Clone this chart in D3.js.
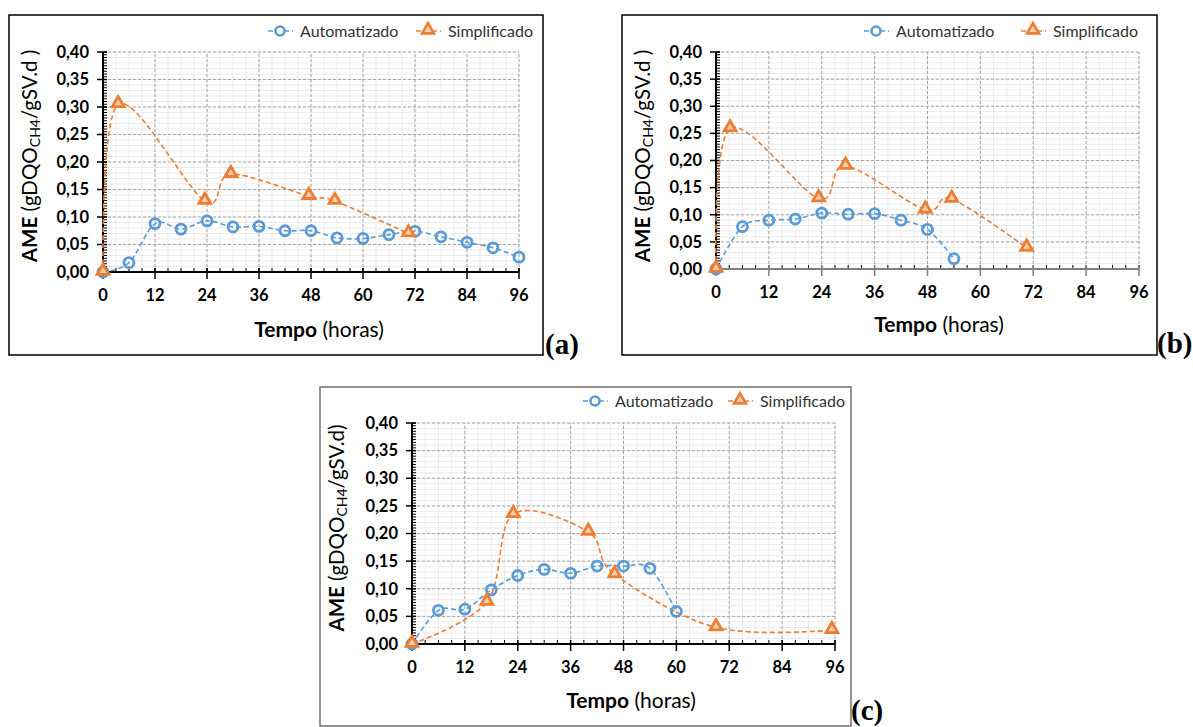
<!DOCTYPE html>
<meta charset="utf-8">
<style>
  body { margin: 0; background: #fff; }
  text { font-family: Lato, "Open Sans", sans-serif; }
</style>
<body>
<script src="https://d3js.org/d3.v7.min.js"></script>
<script>

var width = 1193,
    height = 727;

// panel (a)
var autoA_x = [0, 6, 12, 18, 24, 30, 36, 42, 48, 54, 60, 66, 72, 78, 84, 90, 96];
var autoA_y = [0, 0.017, 0.088, 0.078, 0.093, 0.082, 0.083, 0.075, 0.075, 0.062, 0.061, 0.068, 0.074, 0.064, 0.054, 0.044, 0.027];
var simpA_x = [0, 3.5, 23.5, 29.5, 47.5, 53.5, 70.5];
var simpA_y = [0, 0.305, 0.129, 0.178, 0.138, 0.129, 0.070];

// panel (b)
var autoB_x = [0, 6, 12, 18, 24, 30, 36, 42, 48, 54];
var autoB_y = [0, 0.078, 0.090, 0.092, 0.103, 0.101, 0.102, 0.090, 0.073, 0.019];
var simpB_x = [0, 3.2, 23.3, 29.4, 47.5, 53.5, 70.5];
var simpB_y = [0, 0.259, 0.130, 0.190, 0.109, 0.129, 0.039];

// panel (c)
var autoC_x = [0, 6, 12, 18, 24, 30, 36, 42, 48, 54, 60];
var autoC_y = [0, 0.061, 0.063, 0.098, 0.124, 0.135, 0.128, 0.141, 0.141, 0.137, 0.059];
var simpC_x = [0, 17, 23, 40, 46, 69, 95.3];
var simpC_y = [0, 0.076, 0.235, 0.203, 0.126, 0.030, 0.025];

var xTicks = [0, 12, 24, 36, 48, 60, 72, 84, 96];
var yTicks = [0, 0.05, 0.10, 0.15, 0.20, 0.25, 0.30, 0.35, 0.40];
var seriesNames = ["Automatizado", "Simplificado"];

var blue = "#5b9bd5",
    orange = "#ed7d31";

var svg = d3.select("body").append("svg")
    .attr("width", width)
    .attr("height", height);

var fmt = function(d) { return d3.format(".2f")(d).replace(".", ","); };

function zip(xs, ys) { return xs.map(function(x, i) { return {x: x, y: ys[i]}; }); }

function panel(p) {
  var g = svg.append("g");

  g.append("rect")
      .attr("x", p.frame[0]).attr("y", p.frame[1])
      .attr("width", p.frame[2]).attr("height", p.frame[3])
      .attr("fill", "#fff")
      .attr("stroke", p.frameColor)
      .attr("stroke-width", 1.5);

  var x = d3.scaleLinear().domain([0, 96]).range([p.x0, p.x1]),
      y = d3.scaleLinear().domain([0, 0.4]).range([p.y0, p.y1]);

  // minor grid
  g.selectAll(".gxm").data(d3.range(0, 97, 3))
    .enter().append("line")
      .attr("x1", x).attr("x2", x)
      .attr("y1", p.y0).attr("y2", p.y1)
      .attr("stroke", "#ebebeb").attr("stroke-width", 1);
  g.selectAll(".gym").data(d3.range(0, 41).map(function(i) { return i / 100; }))
    .enter().append("line")
      .attr("x1", p.x0).attr("x2", p.x1)
      .attr("y1", y).attr("y2", y)
      .attr("stroke", "#ebebeb").attr("stroke-width", 1);

  // major grid
  g.selectAll(".gx").data(xTicks.slice(1))
    .enter().append("line")
      .attr("x1", x).attr("x2", x)
      .attr("y1", p.y0).attr("y2", p.y1)
      .attr("stroke", "#a6a6a6").attr("stroke-dasharray", "3,2");
  g.selectAll(".gy").data(yTicks.slice(1))
    .enter().append("line")
      .attr("x1", p.x0).attr("x2", p.x1)
      .attr("y1", y).attr("y2", y)
      .attr("stroke", "#a6a6a6").attr("stroke-dasharray", "3,2");

  // y axis with minor ticks
  g.selectAll(".ymt").data(d3.range(0, 81).map(function(i) { return i * 0.005; }))
    .enter().append("line")
      .attr("x1", p.x0).attr("x2", p.x0 + 4)
      .attr("y1", y).attr("y2", y)
      .attr("stroke", "#000").attr("stroke-width", 1);
  g.selectAll(".yMt").data(yTicks)
    .enter().append("line")
      .attr("x1", p.x0 - 6).attr("x2", p.x0 + 4)
      .attr("y1", y).attr("y2", y)
      .attr("stroke", "#000").attr("stroke-width", 1.5);
  g.append("line")
      .attr("x1", p.x0).attr("x2", p.x0)
      .attr("y1", p.y0).attr("y2", p.y1)
      .attr("stroke", "#000").attr("stroke-width", 2);
  g.selectAll(".ytl").data(yTicks)
    .enter().append("text")
      .attr("x", p.x0 - 14).attr("y", y)
      .attr("dy", "0.35em")
      .attr("text-anchor", "end")
      .attr("font-size", 16.5).attr("font-weight", "bold")
      .text(fmt);

  // x axis
  g.selectAll(".xmt").data(d3.range(0, 97, 3))
    .enter().append("line")
      .attr("x1", x).attr("x2", x)
      .attr("y1", p.y0 - 4).attr("y2", p.y0)
      .attr("stroke", "#000").attr("stroke-width", 1);
  g.selectAll(".xMt").data(xTicks)
    .enter().append("line")
      .attr("x1", x).attr("x2", x)
      .attr("y1", p.y0 - 4).attr("y2", p.y0 + 7)
      .attr("stroke", p.xAxisColor).attr("stroke-width", 1.5);
  g.append("line")
      .attr("x1", p.x0).attr("x2", p.x1)
      .attr("y1", p.y0).attr("y2", p.y0)
      .attr("stroke", p.xAxisColor).attr("stroke-width", 2);
  g.selectAll(".xtl").data(xTicks)
    .enter().append("text")
      .attr("x", x).attr("y", p.y0 + 23)
      .attr("dy", "0.35em")
      .attr("text-anchor", "middle")
      .attr("font-size", 16.5).attr("font-weight", "bold")
      .text(function(d) { return d; });

  // series
  var line = d3.line()
      .x(function(d) { return x(d.x); })
      .y(function(d) { return y(d.y); })
      .curve(d3.curveCardinal.tension(0));

  var auto = zip(p.autoX, p.autoY),
      simp = zip(p.simpX, p.simpY);

  g.append("path").datum(auto)
      .attr("d", line)
      .attr("fill", "none").attr("stroke", blue)
      .attr("stroke-width", 1.6).attr("stroke-dasharray", "5,3");
  g.append("path").datum(simp)
      .attr("d", line)
      .attr("fill", "none").attr("stroke", orange)
      .attr("stroke-width", 1.6).attr("stroke-dasharray", "5,3");

  var tri = d3.symbol().type(d3.symbolTriangle).size(60);

  g.selectAll(".ma").data(auto)
    .enter().append("circle")
      .attr("cx", function(d) { return x(d.x); })
      .attr("cy", function(d) { return y(d.y); })
      .attr("r", 5)
      .attr("fill", "none").attr("stroke", blue).attr("stroke-width", 2.8);
  g.selectAll(".ms").data(simp)
    .enter().append("path")
      .attr("d", tri)
      .attr("transform", function(d) { return "translate(" + x(d.x) + "," + (y(d.y) - 1) + ")"; })
      .attr("fill", "#f8cfb3").attr("stroke", orange).attr("stroke-width", 2.8);

  // legend
  var leg = [
    {name: seriesNames[0], tx: p.legAuto, color: blue, kind: "c"},
    {name: seriesNames[1], tx: p.legSimp, color: orange, kind: "t"}
  ];
  leg.forEach(function(l) {
    var cx = l.tx - 20;
    g.append("line")
        .attr("x1", cx - 13).attr("x2", cx + 13)
        .attr("y1", p.legY).attr("y2", p.legY)
        .attr("stroke", l.color).attr("stroke-width", 1.6)
        .attr("stroke-dasharray", "5,3").attr("stroke-dashoffset", -1);
    if (l.kind === "c") {
      g.append("circle").attr("cx", cx).attr("cy", p.legY).attr("r", 4.5)
          .attr("fill", "#fff").attr("stroke", l.color).attr("stroke-width", 2.6);
    } else {
      g.append("path").attr("d", tri)
          .attr("transform", "translate(" + cx + "," + (p.legY - 1) + ")")
          .attr("fill", "#f8cfb3").attr("stroke", l.color).attr("stroke-width", 2.6);
    }
    g.append("text")
        .attr("x", l.tx).attr("y", p.legY)
        .attr("dy", "0.35em")
        .attr("font-size", 16).attr("fill", "#333")
        .text(l.name);
  });

  // axis titles
  var yt = g.append("text")
      .attr("transform", "translate(" + p.yTitleX + "," + p.yTitleY + ") rotate(-90)")
      .attr("text-anchor", "middle")
      .attr("dy", "0.35em")
      .attr("font-size", 20.5);
  yt.append("tspan").attr("font-weight", "bold").text("AME");
  yt.append("tspan").text(" (gDQO");
  yt.append("tspan").attr("font-size", 14).attr("baseline-shift", "-20%").text("CH4");
  yt.append("tspan").text(p.ySuffix);

  var xt = g.append("text")
      .attr("x", p.xTitleX).attr("y", p.xTitleY)
      .attr("dy", "0.35em")
      .attr("text-anchor", "middle")
      .attr("font-size", 21);
  xt.append("tspan").attr("font-weight", "bold").text("Tempo");
  xt.append("tspan").text(" (horas)");

  svg.append("text")
      .attr("x", p.labX).attr("y", p.labY)
      .style("font-family", "'Liberation Serif', 'DejaVu Serif', serif")
      .attr("font-weight", "bold")
      .attr("font-size", 29)
      .text(p.label);
}

panel({
  frame: [9, 15, 534, 340], frameColor: "#000", xAxisColor: "#000",
  x0: 103, x1: 519, y0: 272, y1: 52,
  autoX: autoA_x, autoY: autoA_y, simpX: simpA_x, simpY: simpA_y,
  legY: 31, legAuto: 300, legSimp: 448,
  yTitleX: 30, yTitleY: 156, ySuffix: "/gSV.d )",
  xTitleX: 319, xTitleY: 330,
  label: "(a)", labX: 545, labY: 354
});

panel({
  frame: [622, 15, 535, 340], frameColor: "#000", xAxisColor: "#7f7f7f",
  x0: 716, x1: 1139, y0: 269, y1: 52,
  autoX: autoB_x, autoY: autoB_y, simpX: simpB_x, simpY: simpB_y,
  legY: 31, legAuto: 896, legSimp: 1053,
  yTitleX: 643, yTitleY: 156, ySuffix: "/gSV.d )",
  xTitleX: 939, xTitleY: 325,
  label: "(b)", labX: 1157, labY: 353
});

panel({
  frame: [320, 387, 531, 339], frameColor: "#707070", xAxisColor: "#000",
  x0: 412, x1: 835, y0: 644, y1: 423,
  autoX: autoC_x, autoY: autoC_y, simpX: simpC_x, simpY: simpC_y,
  legY: 401, legAuto: 615, legSimp: 760,
  yTitleX: 337, yTitleY: 528, ySuffix: "/gSV.d)",
  xTitleX: 631, xTitleY: 701,
  label: "(c)", labX: 851, labY: 720
});

</script>
</body>
